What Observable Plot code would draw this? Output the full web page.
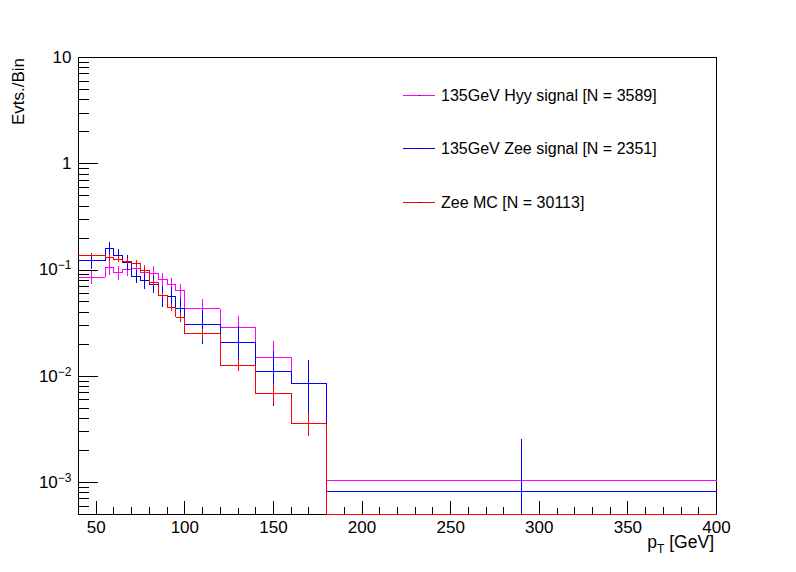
<!DOCTYPE html>
<html><head><meta charset="utf-8">
<script src="https://cdn.jsdelivr.net/npm/d3@7"></script>
<script src="https://cdn.jsdelivr.net/npm/@observablehq/plot@0.6"></script>
<style>
body{margin:0;background:#fff;}
#wrap{position:relative;width:796px;height:572px;font-family:"Liberation Sans",Arial,Helvetica,sans-serif;}
</style></head><body><div id="wrap"></div>
<script>
// ---- data ----
const binLo = [40, 55, 60, 65, 70, 75, 80, 85, 90, 95, 100, 120, 140, 160, 180];
const binHi = [55, 60, 65, 70, 75, 80, 85, 90, 95, 100, 120, 140, 160, 180, 400];

const hyyValues = [0.0855, 0.105, 0.094, 0.101, 0.104, 0.095, 0.093, 0.081, 0.0725, 0.0635, 0.043, 0.0287, 0.0151, 0.0085, 0.00105];
const hyyErrors = [0.012, 0.016, 0.015, 0.015, 0.015, 0.015, 0.014, 0.012, 0.011, 0.010, 0.0095, 0.008, 0.0063, 0.004, 0.0015];

const zeeSigValues = [0.123, 0.158, 0.137, 0.117, 0.087, 0.080, 0.073, 0.057, 0.056, 0.043, 0.031, 0.021, 0.0112, 0.0085, 0.00083];
const zeeSigErrors = [0.021, 0.023, 0.020, 0.019, 0.013, 0.014, 0.013, 0.013, 0.012, 0.011, 0.011, 0.0087, 0.006, 0.0055, 0.0017];

const zeeMCValues = [0.137, 0.130, 0.126, 0.121, 0.116, 0.098, 0.076, 0.058, 0.044, 0.036, 0.025, 0.0127, 0.0069, 0.0036, 0];
const zeeMCErrors = [0.005, 0.009, 0.008, 0.008, 0.007, 0.007, 0.006, 0.004, 0.0035, 0.003, 0.0028, 0.0017, 0.0015, 0.0009, 0];

const seriesNames = ["135GeV Hyy signal [N = 3589]", "135GeV Zee signal [N = 2351]", "Zee MC [N = 30113]"];
const seriesColors = ["#ff00ff", "#0000ff", "#ff0000"];

const xMajorTicks = [50, 100, 150, 200, 250, 300, 350, 400];
const xMinorTicks = [60, 70, 80, 90, 110, 120, 130, 140, 160, 170, 180, 190, 210, 220, 230, 240, 260, 270, 280, 290, 310, 320, 330, 340, 360, 370, 380, 390];
const yMajorTicks = [1e-3, 1e-2, 1e-1, 1, 10];
const yTickLabels = ["10^-3", "10^-2", "10^-1", "1", "10"];
const yMinorTicks = [6e-4, 7e-4, 8e-4, 9e-4,
  2e-3, 3e-3, 4e-3, 5e-3, 6e-3, 7e-3, 8e-3, 9e-3,
  2e-2, 3e-2, 4e-2, 5e-2, 6e-2, 7e-2, 8e-2, 9e-2,
  0.2, 0.3, 0.4, 0.5, 0.6, 0.7, 0.8, 0.9,
  2, 3, 4, 5, 6, 7, 8, 9];
const xDomain = [40, 400];
const yDomain = [5e-4, 10];
const xTitle = "p_T [GeV]";
const yTitle = "Evts./Bin";

// ---- build ----
const yMin = yDomain[0];
const clampV = v => Math.max(v, yMin);
const allValues = [hyyValues, zeeSigValues, zeeMCValues];
const allErrors = [hyyErrors, zeeSigErrors, zeeMCErrors];

const tickShape = {draw(context, l) { context.moveTo(0, 0); context.lineTo(0, -l); }};

const histMarks = [];
allValues.forEach((vals, s) => {
  const steps = binLo.flatMap((lo, i) => [
    {x: lo, y: clampV(vals[i])},
    {x: binHi[i], y: clampV(vals[i])}
  ]);
  const errs = binLo.map((lo, i) => ({
    x: (lo + binHi[i]) / 2,
    y1: clampV(vals[i] - allErrors[s][i]),
    y2: clampV(vals[i] + allErrors[s][i]),
    e: allErrors[s][i]
  })).filter(d => d.e > 0);
  histMarks.push(Plot.line(steps, {x: "x", y: "y", stroke: seriesColors[s], strokeWidth: 1, curve: "linear", shapeRendering: "crispEdges"}));
  histMarks.push(Plot.ruleX(errs, {x: "x", y1: "y1", y2: "y2", stroke: seriesColors[s], strokeWidth: 1, shapeRendering: "crispEdges"}));
});

const chart = Plot.plot({
  width: 796,
  height: 572,
  marginLeft: 78,
  marginRight: 80,
  marginTop: 57,
  marginBottom: 58,
  style: {fontFamily: '"Liberation Sans", Arial, Helvetica, sans-serif', fontSize: "17px", color: "#000", background: "#fff"},
  x: {domain: xDomain},
  y: {type: "log", domain: yDomain},
  marks: [
    Plot.frame({stroke: "#000", strokeWidth: 1, shapeRendering: "crispEdges"}),
    Plot.vector(xMajorTicks, {x: d => d, frameAnchor: "bottom", length: 13, rotate: 0, anchor: "start", shape: tickShape, stroke: "#000", strokeWidth: 1, shapeRendering: "crispEdges"}),
    Plot.vector(xMinorTicks, {x: d => d, frameAnchor: "bottom", length: 7, rotate: 0, anchor: "start", shape: tickShape, stroke: "#000", strokeWidth: 1, shapeRendering: "crispEdges"}),
    Plot.vector(yMajorTicks, {y: d => d, frameAnchor: "left", length: 19, rotate: 90, anchor: "start", shape: tickShape, stroke: "#000", strokeWidth: 1, shapeRendering: "crispEdges"}),
    Plot.vector(yMinorTicks, {y: d => d, frameAnchor: "left", length: 10, rotate: 90, anchor: "start", shape: tickShape, stroke: "#000", strokeWidth: 1, shapeRendering: "crispEdges"}),
    Plot.axisX({ticks: xMajorTicks, tickSize: 0, tickPadding: 6, label: null, tickFormat: d => String(d)}),
    Plot.axisY({ticks: yMajorTicks, tickSize: 0, tickPadding: 7, label: null, tickFormat: d => yTickLabels[yMajorTicks.indexOf(d)]}),
    ...histMarks
  ]
});
document.getElementById("wrap").appendChild(chart);

// superscript tick labels
const svg = d3.select(chart);
svg.selectAll('g[aria-label="y-axis tick label"] text').each(function() {
  const t = this.textContent;
  if (t.includes("^")) {
    const [base, exp] = t.split("^");
    const el = d3.select(this);
    el.text(null);
    el.append("tspan").text(base);
    el.append("tspan").attr("dy", "-0.5em").attr("font-size", "12px").text(exp.replace("-", "\u2212"));
  }
});

// axis titles
svg.append("text")
  .attr("transform", "translate(24,58) rotate(-90)")
  .attr("text-anchor", "end")
  .attr("font-size", 17)
  .attr("fill", "#000")
  .text(yTitle);
const [tMain, tRest] = xTitle.split("_");
const xt = svg.append("text")
  .attr("x", 714).attr("y", 548)
  .attr("text-anchor", "end")
  .attr("font-size", 17.5)
  .attr("fill", "#000");
xt.append("tspan").text(tMain);
xt.append("tspan").attr("dy", 5).attr("font-size", 12).text(tRest.charAt(0));
xt.append("tspan").attr("dy", -5).text(tRest.slice(1));

// legend
const legY = [95, 148, 202];
seriesNames.forEach((name, i) => {
  const g = svg.append("g");
  g.append("line").attr("x1", 403).attr("x2", 435).attr("y1", legY[i] + 0.5).attr("y2", legY[i] + 0.5)
    .attr("stroke", seriesColors[i]).attr("stroke-width", 1).attr("shape-rendering", "crispEdges");
  g.append("rect").attr("x", 419).attr("y", legY[i]).attr("width", 1).attr("height", 1).attr("fill", "#000");
  g.append("text").attr("x", 441).attr("y", legY[i]).attr("dy", "0.36em").attr("text-anchor", "start")
    .attr("font-size", 16).attr("fill", "#000").text(name);
});
</script>
</body></html>
